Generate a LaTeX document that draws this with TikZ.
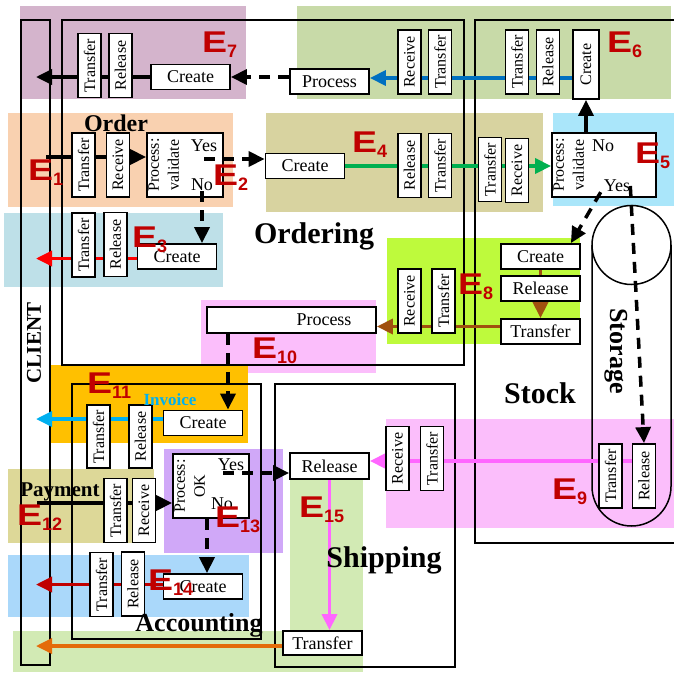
\documentclass[tikz,border=0pt]{standalone}
\usepackage{fontspec}
\setmainfont{Liberation Serif}
\newfontfamily\evfont{Liberation Sans}
\usepackage{graphicx}
\usepackage{xcolor}
\usepackage{tikz}
\usetikzlibrary{arrows.meta,positioning}

\pgfdeclarelayer{background}
\pgfdeclarelayer{lines}
\pgfsetlayers{background,lines,main}

\definecolor{bgpurple}{HTML}{D4B4CC}
\definecolor{bgsage}{HTML}{C8DAA8}
\definecolor{bgpeach}{HTML}{F9D1B0}
\definecolor{bgkhaki}{HTML}{D8D3A0}
\definecolor{bgsky}{HTML}{AAE6FA}
\definecolor{bgteal}{HTML}{BEE0E8}
\definecolor{bglime}{HTML}{BEFA3C}
\definecolor{bgpink}{HTML}{FBBEFB}
\definecolor{bgamber}{HTML}{FFC000}
\definecolor{bgolive}{HTML}{DDD898}
\definecolor{bgviolet}{HTML}{D0A8F8}
\definecolor{bgmint}{HTML}{D2EAB4}
\definecolor{bgazure}{HTML}{AAD8FA}
\definecolor{blue6}{HTML}{0070C0}
\definecolor{green4}{HTML}{00B050}
\definecolor{red3}{HTML}{FF0000}
\definecolor{brown8}{HTML}{A0500F}
\definecolor{cyan11}{HTML}{00B0F0}
\definecolor{pink9}{HTML}{FF66FF}
\definecolor{red14}{HTML}{C00000}
\definecolor{orange15}{HTML}{E46C0A}
\definecolor{evred}{HTML}{C00000}

\newcommand{\elab}[1]{\scalebox{1.25}[1]{E}\raisebox{-5pt}{\fontsize{18}{18}\selectfont #1}}

\begin{document}
\begin{tikzpicture}[
  x=1pt, y=-1pt,
  vbox/.style={draw, fill=white, line width=1.8pt, rotate=90, minimum width=64, minimum height=23, inner sep=0pt, font=\fontsize{16}{18}\selectfont},
  hbox/.style={draw, fill=white, line width=1.8pt, minimum width=79, minimum height=25, inner sep=0pt, font=\fontsize{18}{20}\selectfont},
  valbox/.style={draw, fill=white, line width=1.8pt, minimum width=76, minimum height=64, inner sep=0pt},
  valtxt/.style={rotate=90, anchor=north, align=center, inner sep=1pt, font=\fontsize{16}{20}\selectfont},
  yn/.style={inner sep=0pt, font=\fontsize{18}{20}\selectfont},
  lane/.style={draw, line width=1.5pt},
  lanelbl/.style={anchor=base, inner sep=0pt, font=\bfseries\fontsize{30}{32}\selectfont},
  elbl/.style={anchor=base west, inner sep=0pt, text=evred, font=\evfont\bfseries\fontsize{30}{30}\selectfont},
  arr/.style={-{Triangle[length=16pt,width=15pt]}, line width=3.5pt},
  dasharr/.style={arr, dash pattern=on 11pt off 8pt}
]
  \useasboundingbox (0,0) rectangle (674,672);

  % E7 / E6
  \node[vbox] (e7tra) at (89.5,65.5) {Transfer};
  \node[vbox] (e7rel) at (120.5,65.5) {Release};
  \node[hbox] (e7cre) at (190.5,77) {Create};
  \node[hbox] (e7pro) at (329.5,81.5) {Process};
  \node[vbox] (e6rec) at (409.5,62) {Receive};
  \node[vbox] (e6tra) at (440,62) {Transfer};
  \node[vbox] (e6tra2) at (517,62) {Transfer};
  \node[vbox] (e6rel) at (548,62) {Release};
  \node[vbox, minimum width=69, minimum height=26] (e6cre) at (586,64.5) {Create};

  % order, E4, E5
  \node[vbox] (e1tra) at (83.5,165) {Transfer};
  \node[vbox] (e1rec) at (118,165) {Receive};
  \node[valbox] (ordval) at (185,165) {};
  \node[valtxt] (ordtxt) at ([xshift=1pt]ordval.west) {Process:\\validate};
  \node[yn] (ordyes) at (204,146) {Yes};
  \node[yn] (ordno) at (202,185) {No};
  \node[hbox] (e4cre) at (305,166) {Create};
  \node[vbox] (e4rel) at (409.5,165.5) {Release};
  \node[vbox] (e4tra) at (440,165.5) {Transfer};
  \node[vbox] (e4tra2) at (490,169.5) {Transfer};
  \node[vbox] (e4rec) at (517,170.5) {Receive};
  \node[valbox, minimum width=104] (e5val) at (604,165) {};
  \node[valtxt] (e5txt) at ([xshift=1pt]e5val.west) {Process:\\validate};
  \node[yn] (e5no) at (603,146) {No};
  \node[yn] (e5yes) at (617,186) {Yes};

  % E3
  \node[vbox] (e3tra) at (83.5,245) {Transfer};
  \node[vbox] (e3rel) at (115.5,244.5) {Release};
  \node[hbox] (e3cre) at (177,256.5) {Create};

  % E8, E10
  \node[hbox] (e8cre) at (540.5,256.5) {Create};
  \node[hbox] (e8rel) at (540.5,288.5) {Release};
  \node[hbox] (e8tra) at (540.5,331.5) {Transfer};
  \node[vbox] (e8rec) at (409.5,301) {Receive};
  \node[vbox] (e8tra2) at (443.5,301) {Transfer};
  \node[hbox, minimum width=169, minimum height=26, text width=120, align=right] (e10pro) at (291.5,320) {Process};

  % E11
  \node[hbox] (e11cre) at (203,423) {Create};
  \node[vbox, minimum width=63] (e11tra) at (98.5,436.5) {Transfer};
  \node[vbox, minimum width=63] (e11rel) at (140.5,436.5) {Release};
  \node[inner sep=0pt, text=cyan11, font=\bfseries\fontsize{17}{19}\selectfont] (inv) at (170,400) {Invoice};

  % payment, E13, E14
  \node[vbox] (e12tra) at (115.5,510.5) {Transfer};
  \node[vbox] (e12rec) at (144,510.5) {Receive};
  \node[valbox] (okbox) at (211,486) {};
  \node[valtxt] (oktxt) at ([xshift=1pt]okbox.west) {Process:\\OK};
  \node[yn] (okyes) at (231,465) {Yes};
  \node[yn] (okno) at (222,504) {No};
  \node[vbox] (e14tra) at (101.5,584.5) {Transfer};
  \node[vbox] (e14rel) at (133,584) {Release};
  \node[hbox] (e14cre) at (203,586.5) {Create};

  % E15, E9
  \node[hbox, minimum height=26] (shrel) at (329.5,466) {Release};
  \node[hbox, minimum height=24] (shtra) at (322.5,643) {Transfer};
  \node[vbox] (e9rec) at (397.5,458.5) {Receive};
  \node[vbox] (e9tra) at (432,458.5) {Transfer};
  \node[vbox] (e9tra2) at (610.5,476) {Transfer};
  \node[vbox] (e9rel) at (644,476) {Release};

  % lane labels
  \node[lanelbl, font=\bfseries\fontsize{24}{26}\selectfont] (lorder) at (116,131) {Order};
  \node[lanelbl, font=\bfseries\fontsize{21}{23}\selectfont] (lpay) at (60,496) {Payment};
  \node[lanelbl] (lordering) at (314,243) {Ordering};
  \node[lanelbl] (lstock) at (540,403) {Stock};
  \node[lanelbl] (lship) at (384,567) {Shipping};
  \node[lanelbl, font=\bfseries\fontsize{26}{28}\selectfont] (lacc) at (199,631) {Accounting};
  \node[inner sep=0pt, rotate=90, font=\bfseries\fontsize{21}{23}\selectfont] (lclient) at (34,343) {CLIENT};
  \node[inner sep=0pt, rotate=-90, font=\bfseries\fontsize{26}{28}\selectfont] (lstore) at (616,351) {Storage};

  % dashed flows
  \coordinate (e2a) at ([yshift=-13pt]ordyes.center);
  \draw[dasharr] (e2a) -- (e2a -| e4cre.west);
  \draw[dasharr] (ordno.south) -- (ordno.south |- e3cre.north);
  \draw[dasharr] (e7pro.west |- e7cre.east) -- (e7cre.east);
  \draw[dasharr] (e5yes.east) -- (e9rel.east);
  \draw[dasharr] ([xshift=-3pt]e5yes.south west) -- ([xshift=-10pt]e8cre.north east);
  \coordinate (e10x) at (228,0);
  \draw[dasharr] (e10pro.south -| e10x) -- (e11cre.north -| e10x);
  \coordinate (e13a) at ([xshift=-8pt,yshift=-8pt]okyes.center);
  \draw[dasharr] (e13a) -- (e13a -| shrel.west);
  \draw[dasharr] ([xshift=-4pt]okbox.south) -- ([xshift=-4pt]okbox.south |- e14cre.north);

  % event labels
  \node[elbl] (ev1) at (28,180) {\elab{1}};
  \node[elbl] (ev2) at (213,185) {\elab{2}};
  \node[elbl] (ev3) at (132,247) {\elab{3}};
  \node[elbl] (ev4) at (352,152) {\elab{4}};
  \node[elbl] (ev5) at (635,163) {\elab{5}};
  \node[elbl] (ev6) at (607,52) {\elab{6}};
  \node[elbl] (ev7) at (202,52) {\elab{7}};
  \node[elbl] (ev8) at (458,294) {\elab{8}};
  \node[elbl] (ev9) at (552,499) {\elab{9}};
  \node[elbl] (ev10) at (252,358) {\elab{10}};
  \node[elbl] (ev11) at (87,393) {\elab{11}};
  \node[elbl] (ev12) at (17,525) {\elab{12}};
  \node[elbl] (ev13) at (215,527) {\elab{13}};
  \node[elbl] (ev14) at (148,590) {\elab{14}};
  \node[elbl] (ev15) at (299,517) {\elab{15}};

  \begin{pgfonlayer}{lines}
    \coordinate (clx) at (36,0);
    \draw[arr] (e7cre.west) -- (e7cre.west -| clx);
    \coordinate (e6y) at (0,78);
    \draw[arr, blue6] (e6cre.west |- e6y) -- (e7pro.east |- e6y);
    \draw[arr] (e5val.north -| e6cre) -- (e6cre.west);
    \coordinate (e1in) at (46,157);
    \draw[arr] (e1in) -- (ordval.west |- e1in);
    \draw[arr, green4] (e4cre.east) -- (e5val.west |- e4cre.east);
    \draw[arr, red3] ([yshift=-2pt]e3cre.west) -- ([yshift=-2pt]e3cre.west -| clx);
    \draw[line width=3.5pt, brown8] (e8cre.south) -- (e8rel.north);
    \draw[arr, brown8] (e8rel.south) -- (e8tra.north);
    \coordinate (e8y) at ([yshift=5pt]e8tra.west);
    \draw[arr, brown8] (e8y) -- (e8y -| e10pro.east);
    \draw[arr, cyan11] ([yshift=4pt]e11cre.west) -- ([yshift=4pt]e11cre.west -| clx);
    \coordinate (e12in) at (37,503);
    \draw[arr] (e12in) -- (okbox.west |- e12in);
    \draw[arr, red14] ([yshift=2pt]e14cre.west) -- ([yshift=2pt]e14cre.west -| clx);
    \draw[arr, pink9] (shrel.south) -- (shrel.south |- shtra.north);
    \draw[arr, orange15] ([yshift=-3pt]shtra.west) -- ([yshift=-3pt]shtra.west -| clx);
    \coordinate (e9y) at ([yshift=15pt]e9rel.north);
    \draw[arr, pink9] (e9y) -- (e9y -| shrel.east);
  \end{pgfonlayer}

  \begin{pgfonlayer}{background}
    \fill[bgpurple] (20,6) rectangle (246,99);
    \fill[bgsage] (297,6) rectangle (671,99);
    \fill[bgpeach] (8,113) rectangle (233,207);
    \fill[bgkhaki] (266,113) rectangle (543,212);
    \fill[bgsky] (553,113) rectangle (674,206);
    \fill[bgteal] (4,213) rectangle (223,287);
    \fill[bglime] (387,238) rectangle (580,344);
    \fill[bgpink] (201,300) rectangle (376,373);
    \fill[bgamber] (50,365) rectangle (248,443);
    \fill[bgpink] (386,419) rectangle (674,528);
    \fill[bgolive] (8,469) rectangle (154,543);
    \fill[bgviolet] (164,449) rectangle (283,553);
    \fill[bgmint] (290,478) rectangle (363,672);
    \fill[bgmint] (13,631) rectangle (363,672);
    \fill[bgazure] (8,555) rectangle (249,617);
    \draw[lane] (21,20) rectangle (50,665);
    \draw[lane] (62,20) rectangle (464,365);
    \draw[lane] (682,20) -- (475,20) -- (475,543) -- (682,543);
    \draw[lane] (72,384) rectangle (261,639);
    \draw[lane] (275,384) rectangle (455,667);
    \draw[lane] (631.5,245) circle[radius=39.5];
    \draw[lane, rounded corners=39.5pt] (592,245) -- (592,526) -- (671,526) -- (671,245);
  \end{pgfonlayer}
\end{tikzpicture}
\end{document}
